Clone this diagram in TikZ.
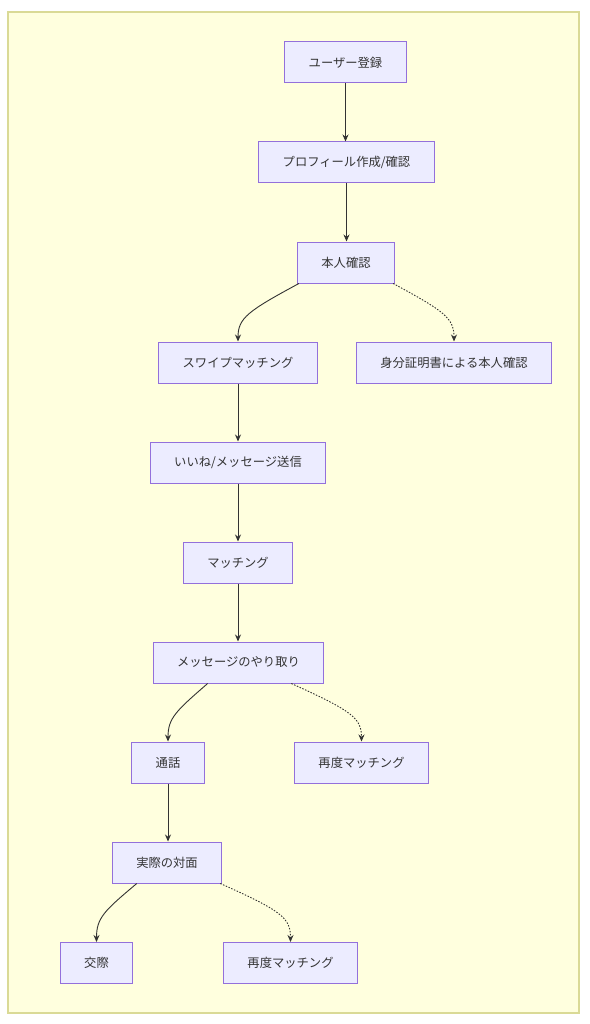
\documentclass[tikz,border=0pt]{standalone}
\usepackage{fontspec}
\newfontfamily\jpfont{Noto Sans CJK JP}
\usetikzlibrary{arrows.meta}
\definecolor{cluster}{RGB}{255,255,222}
\definecolor{clusterline}{RGB}{218,218,150}
\definecolor{boxfill}{RGB}{236,236,255}
\definecolor{boxline}{RGB}{147,112,219}
\definecolor{ink}{RGB}{51,51,51}
\tikzset{
  stepbox/.style={draw=boxline, fill=boxfill, line width=1pt, minimum height=41pt,
    inner xsep=24pt, text=ink, font=\jpfont\fontsize{12.3}{14}\selectfont},
  flow/.style={draw=ink, line width=0.9pt, -{Stealth[length=7pt,width=6pt]}},
  maybe/.style={flow, dash pattern=on 1.5pt off 1.5pt}
}
\begin{document}
\begin{tikzpicture}[x=1pt, y=-1pt]
    \useasboundingbox (0,0) rectangle (589,1024);
    % background frame
    \path[fill=cluster, draw=clusterline, line width=1.5pt] (8,12) rectangle (579,1013);
    % main steps
    \path (345.5,62.5) node[stepbox] (signup) {ユーザー登録}
          (346.5,162.5) node[stepbox] (profile) {プロフィール作成/確認}
          (346,262.5) node[stepbox] (verify) {本人確認}
          (238,362.5) node[stepbox] (swipe) {スワイプマッチング}
          (454,362.5) node[stepbox] (idcheck) {身分証明書による本人確認}
          (238,462.5) node[stepbox] (like) {いいね/メッセージ送信}
          (238,562.5) node[stepbox] (match) {マッチング}
          (238.5,662.5) node[stepbox] (chat) {メッセージのやり取り}
          (168,762.5) node[stepbox] (call) {通話}
          (361.5,762.5) node[stepbox] (retryA) {再度マッチング}
          (167,862.5) node[stepbox] (meet) {実際の対面}
          (96.5,963) node[stepbox] (date) {交際}
          (290.5,963) node[stepbox] (retryB) {再度マッチング};
    % straight links, kept vertical
    \foreach \a/\b in {signup/profile, profile/verify, swipe/like, like/match, match/chat, call/meet}
      \draw[flow] (\a.south) -- (\a.south |- \b.north);
    % branches
    \draw[flow] (verify.south west) ++(2,0) .. controls (248,311) and (238,318) .. (swipe.north);
    \draw[maybe] (verify.south east) ++(-2,0) .. controls (444,311) and (454,318) .. (idcheck.north);
    \draw[flow] (chat.south west) ++(55,0) .. controls (176,711) and (168,718) .. (call.north);
    \draw[maybe] (chat.south east) ++(-33,0) .. controls (352,711) and (361.5,718) .. (retryA.north);
    \draw[flow] (meet.south west) ++(25,0) .. controls (104,911) and (96.5,918) .. (date.north);
    \draw[maybe] (meet.south east) ++(-2,0) .. controls (282,911) and (290.5,918) .. (retryB.north);
\end{tikzpicture}
\end{document}
